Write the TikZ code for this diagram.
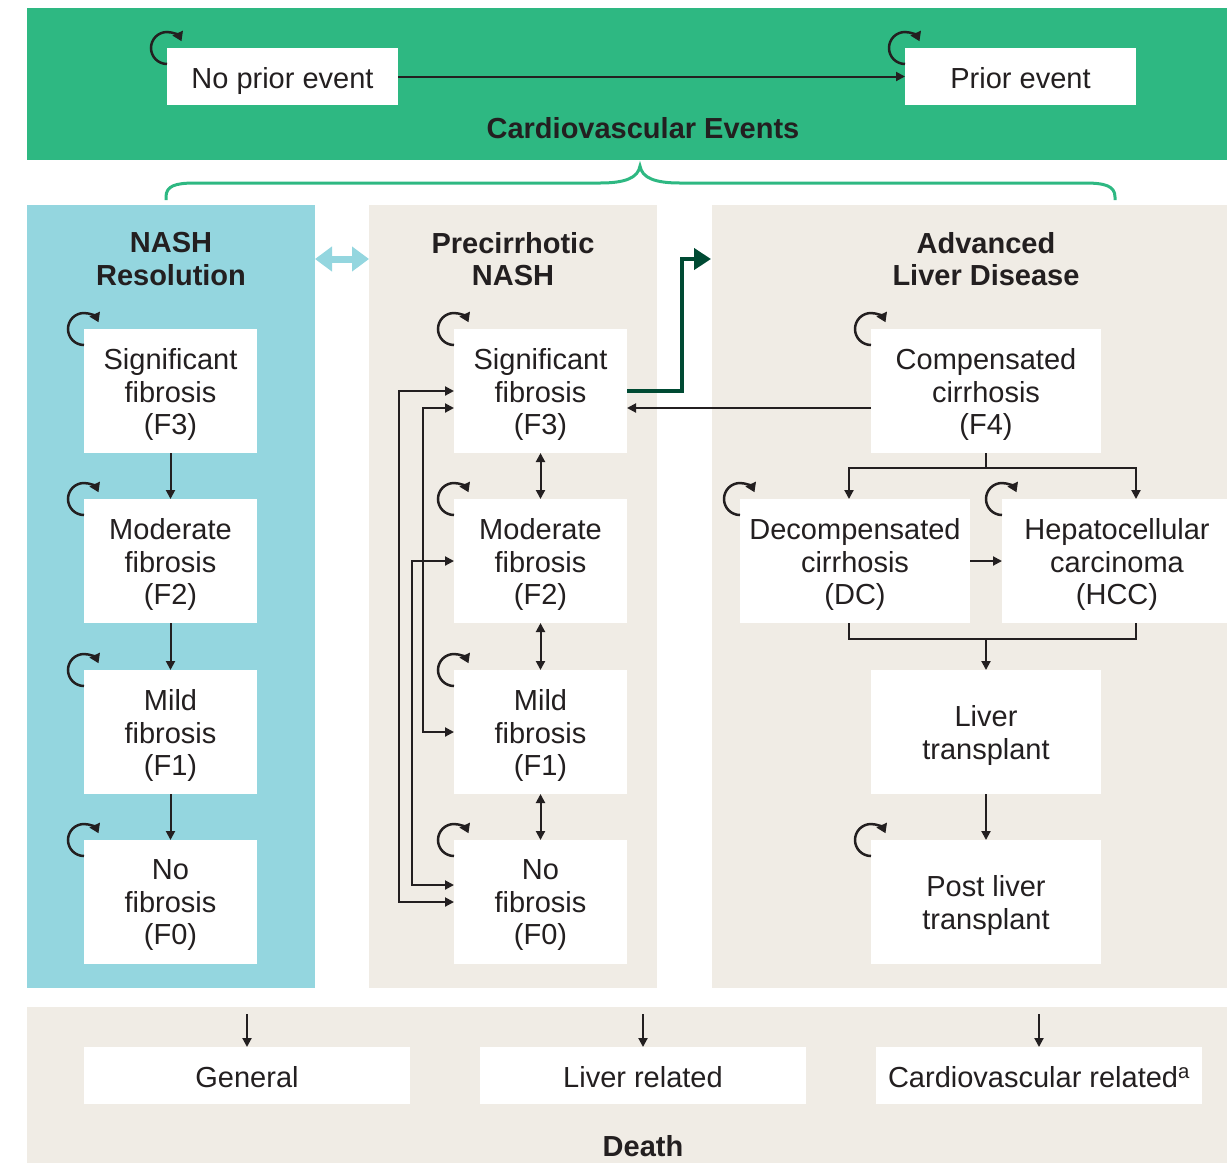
\documentclass[tikz,border=0pt]{standalone}
\usepackage{fontspec}
\setmainfont{Liberation Sans}
\usetikzlibrary{arrows.meta}
\definecolor{cvgreen}{RGB}{46,184,130}
\definecolor{resblue}{RGB}{148,214,223}
\definecolor{panelbeige}{RGB}{240,236,229}
\definecolor{dkgreen}{RGB}{0,74,51}
\definecolor{ink}{RGB}{35,31,32}
\newcommand\selfloop[1]{\draw[loopst] ([yshift=-16pt]#1.north west) arc[start angle=90,end angle=335,radius=16];}
% box with text nudged down to match the reference's baseline placement
\newcommand\stbox[5]{\node[#2] (#1) at (#3) {};\node[txt] (#1-t) at ([yshift=-#4pt]#1.center) {#5};}
\begin{document}
\begin{tikzpicture}[x=1pt,y=-1pt,
  font=\fontsize{29}{32.5}\selectfont,
  panel/.style={inner sep=0pt, outer sep=0pt, draw=none},
  state/.style={fill=white, inner sep=0pt, outer sep=0pt, minimum width=173pt, minimum height=124pt},
  wide/.style={state, minimum width=230pt},
  flat/.style={state, minimum height=57pt},
  txt/.style={text=ink, align=center, inner sep=0pt},
  hdr/.style={font=\fontsize{29}{32.5}\selectfont\bfseries, text=ink, align=center, inner sep=0pt},
  arr/.style={draw=ink, line width=2pt, -{Triangle[length=9pt,width=9pt]}},
  darr/.style={draw=ink, line width=2pt, {Triangle[length=9pt,width=9pt]}-{Triangle[length=9pt,width=9pt]}},
  plain/.style={draw=ink, line width=2pt},
  loopst/.style={draw=ink, line width=2.5pt, -{Triangle[length=9pt,width=11pt]}}
]
\useasboundingbox (0,0) rectangle (1227,1163);
% panels
\node[panel, fill=cvgreen, minimum width=1200pt, minimum height=152pt] (pcv) at (627,84) {};
\node[panel, fill=resblue, minimum width=288pt, minimum height=783pt] (pres) at (171,596.5) {};
\node[panel, fill=panelbeige, minimum width=288pt, minimum height=783pt] (ppre) at (513,596.5) {};
\node[panel, fill=panelbeige, minimum width=515pt, minimum height=783pt] (padv) at (969.5,596.5) {};
\node[panel, fill=panelbeige, minimum width=1200pt, minimum height=156pt] (pdeath) at (627,1085) {};
% brace
\draw[cvgreen, line width=3pt] (166,200) -- (166,197) .. controls (166,186) and (175,183) .. (195,183) -- (600,183) .. controls (625,183) and (638,178) .. (640,166) .. controls (642,178) and (655,183) .. (680,183) -- (1085,183) .. controls (1105,183) and (1115,186) .. (1115,197) -- (1115,200);
% headers
\node[hdr] (hcv) at (643,128) {Cardiovascular Events};
\node[hdr] (hres) at (171,259) {NASH\\Resolution};
\node[hdr] (hpre) at (513,259) {Precirrhotic\\NASH};
\node[hdr] (hadv) at (986,259) {Advanced\\Liver Disease};
\node[hdr] (hdeath) at (643,1146) {Death};
% top states
\stbox{npe}{flat, minimum width=231pt}{282.5,76.5}{4}{No prior event}
\stbox{pe}{flat, minimum width=231pt}{1020.5,76.5}{2}{Prior event}
% resolution column
\stbox{l3}{state}{170.5,391}{3.5}{Significant\\fibrosis\\(F3)}
\stbox{l2}{state}{170.5,561}{3.5}{Moderate\\fibrosis\\(F2)}
\stbox{l1}{state}{170.5,732}{3.5}{Mild\\fibrosis\\(F1)}
\stbox{l0}{state}{170.5,902}{3.5}{No\\fibrosis\\(F0)}
% precirrhotic column
\stbox{m3}{state}{540.5,391}{3.5}{Significant\\fibrosis\\(F3)}
\stbox{m2}{state}{540.5,561}{3.5}{Moderate\\fibrosis\\(F2)}
\stbox{m1}{state}{540.5,732}{3.5}{Mild\\fibrosis\\(F1)}
\stbox{m0}{state}{540.5,902}{3.5}{No\\fibrosis\\(F0)}
% advanced
\stbox{c4}{wide}{986,391}{3.5}{Compensated\\cirrhosis\\(F4)}
\stbox{dc}{wide}{855,561}{3.5}{Decompensated\\cirrhosis\\(DC)}
\stbox{hcc}{state, minimum width=225pt}{1114.5,561}{3.5}{\hspace*{5pt}Hepatocellular\\\hspace*{5pt}carcinoma\\\hspace*{5pt}(HCC)}
\stbox{lt}{wide}{986,732}{3.5}{Liver\\transplant}
\stbox{plt}{wide}{986,902}{3.5}{Post liver\\transplant}
% death
\stbox{gen}{flat, minimum width=326pt}{247,1075.5}{2}{General}
\stbox{lrel}{flat, minimum width=326pt}{643,1075.5}{2}{Liver related}
\stbox{crel}{flat, minimum width=326pt}{1039,1075.5}{2}{Cardiovascular related\textsuperscript{a}}
% loops
\selfloop{npe}\selfloop{pe}
\selfloop{l3}\selfloop{l2}\selfloop{l1}\selfloop{l0}
\selfloop{m3}\selfloop{m2}\selfloop{m1}\selfloop{m0}
\selfloop{c4}\selfloop{dc}\selfloop{hcc}\selfloop{plt}
% connectors
\draw[arr] (npe) -- (pe);
\draw[arr] (l3) -- (l2);
\draw[arr] (l2) -- (l1);
\draw[arr] (l1) -- (l0);
\draw[darr] (m3) -- (m2);
\draw[darr] (m2) -- (m1);
\draw[darr] (m1) -- (m0);
\draw[darr] (m3.west) -- (399,391) |- (m0.west);
\draw[darr] ([yshift=-17pt]m3.west) -- (423,408) |- (m1.west);
\draw[darr] (m2.west) -- (412,561) |- ([yshift=17pt]m0.west);
\draw[resblue, line width=7pt, {Triangle[length=17pt,width=24pt]}-{Triangle[length=17pt,width=24pt]}] (pres.east |- 0,259) -- (ppre.west |- 0,259);
\draw[dkgreen, line width=4.5pt, -{Triangle[length=17pt,width=21pt]}] (m3.east) -- (682,391) |- ([xshift=-1pt]padv.west |- 0,259);
\draw[arr] ([yshift=-17pt]c4.west) -- ([yshift=-17pt]m3.east);
\draw[plain] (c4.south) -- (986,468);
\draw[arr] (986,468) -| ([xshift=-6pt]dc.north);
\draw[arr] (986,468) -| ([xshift=21.5pt]hcc.north);
\draw[arr] (dc) -- (hcc);
\draw[plain] ([xshift=-6pt]dc.south) |- (986,639) -| ([xshift=21.5pt]hcc.south);
\draw[arr] (986,639) -- (lt.north);
\draw[arr] (lt) -- (plt);
\coordinate (dg) at (247,1014);
\coordinate (dl) at (643,1014);
\coordinate (dcv) at (1039,1014);
\draw[arr] (dg) -- (gen);
\draw[arr] (dl) -- (lrel);
\draw[arr] (dcv) -- (crel);
\end{tikzpicture}
\end{document}
